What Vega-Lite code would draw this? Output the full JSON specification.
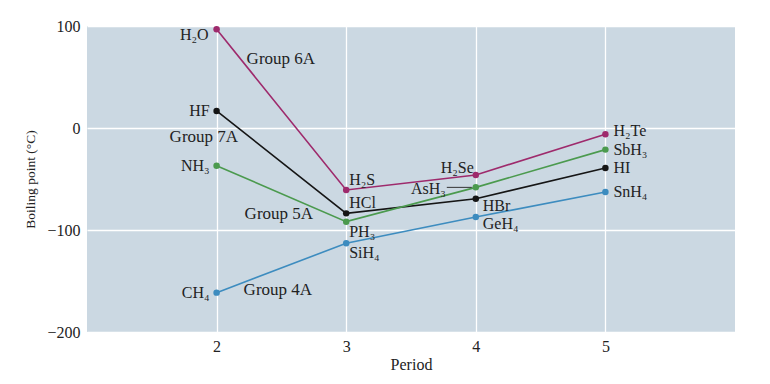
{
  "$schema": "https://vega.github.io/schema/vega-lite/v6.json",
  "width": 648,
  "height": 306,
  "autosize": "none",
  "padding": {"left": 87, "top": 26, "right": 35, "bottom": 52},
  "background": "white",
  "data": {
    "values": [
      {"compound": "H₂O", "period": 2, "bp": 96.8, "group": "Group 6A"},
      {"compound": "H₂S", "period": 3, "bp": -60.8, "group": "Group 6A"},
      {"compound": "H₂Se", "period": 4, "bp": -46, "group": "Group 6A"},
      {"compound": "H₂Te", "period": 5, "bp": -6.2, "group": "Group 6A"},
      {"compound": "HF", "period": 2, "bp": 16.7, "group": "Group 7A"},
      {"compound": "HCl", "period": 3, "bp": -83.7, "group": "Group 7A"},
      {"compound": "HBr", "period": 4, "bp": -69.3, "group": "Group 7A"},
      {"compound": "HI", "period": 5, "bp": -39.2, "group": "Group 7A"},
      {"compound": "NH₃", "period": 2, "bp": -37, "group": "Group 5A"},
      {"compound": "PH₃", "period": 3, "bp": -91.8, "group": "Group 5A"},
      {"compound": "AsH₃", "period": 4, "bp": -58.2, "group": "Group 5A"},
      {"compound": "SbH₃", "period": 5, "bp": -21.2, "group": "Group 5A"},
      {"compound": "CH₄", "period": 2, "bp": -161.4, "group": "Group 4A"},
      {"compound": "SiH₄", "period": 3, "bp": -113, "group": "Group 4A"},
      {"compound": "GeH₄", "period": 4, "bp": -87.3, "group": "Group 4A"},
      {"compound": "SnH₄", "period": 5, "bp": -62.7, "group": "Group 4A"}
    ]
  },
  "encoding": {
    "x": {
      "field": "period", "type": "quantitative",
      "scale": {"domain": [1, 6], "nice": false, "zero": false},
      "axis": {"values": [2, 3, 4, 5], "title": "Period", "labelPadding": 6, "titlePadding": 2, "grid": true}
    },
    "y": {
      "field": "bp", "type": "quantitative",
      "scale": {"domain": [-200, 100], "nice": false},
      "axis": {"values": [-200, -100, 0, 100], "title": "Boiling point (°C)", "labelPadding": 7, "titlePadding": 9, "titleFontSize": 13.5, "grid": true}
    }
  },
  "layer": [
    {
      "mark": {"type": "line", "strokeWidth": 1.6},
      "encoding": {
        "color": {
          "field": "group", "type": "nominal",
          "scale": {"domain": ["Group 6A", "Group 7A", "Group 5A", "Group 4A"], "range": ["#9e2a6c", "#151515", "#4b9a4e", "#3d8cbf"]},
          "legend": null
        },
        "order": {"field": "period"}
      }
    },
    {
      "mark": {"type": "point", "filled": true, "size": 42, "opacity": 1},
      "encoding": {
        "color": {"field": "group", "type": "nominal", "legend": null}
      }
    },
    {
      "transform": [{"filter": {"field": "compound", "oneOf": ["HF", "NH₃", "CH₄"]}}],
      "mark": {"type": "text", "align": "right", "baseline": "middle", "dx": -7, "dy": 0, "font": "Liberation Serif", "fontSize": 16, "color": "#222"},
      "encoding": {"text": {"field": "compound"}}
    },
    {
      "transform": [{"filter": {"field": "compound", "equal": "H₂O"}}],
      "mark": {"type": "text", "align": "right", "baseline": "middle", "dx": -8, "dy": 6, "font": "Liberation Serif", "fontSize": 16, "color": "#222"},
      "encoding": {"text": {"field": "compound"}}
    },
    {
      "transform": [{"filter": {"field": "compound", "oneOf": ["H₂S", "HCl"]}}],
      "mark": {"type": "text", "align": "left", "baseline": "middle", "dx": 3, "dy": -10, "font": "Liberation Serif", "fontSize": 16, "color": "#222"},
      "encoding": {"text": {"field": "compound"}}
    },
    {
      "transform": [{"filter": {"field": "compound", "oneOf": ["PH₃", "SiH₄"]}}],
      "mark": {"type": "text", "align": "left", "baseline": "middle", "dx": 3, "dy": 10, "font": "Liberation Serif", "fontSize": 16, "color": "#222"},
      "encoding": {"text": {"field": "compound"}}
    },
    {
      "transform": [{"filter": {"field": "compound", "equal": "H₂Se"}}],
      "mark": {"type": "text", "align": "right", "baseline": "middle", "dx": -2, "dy": -7, "font": "Liberation Serif", "fontSize": 16, "color": "#222"},
      "encoding": {"text": {"field": "compound"}}
    },
    {
      "transform": [{"filter": {"field": "compound", "equal": "AsH₃"}}],
      "mark": {"type": "text", "align": "right", "baseline": "middle", "dx": -30, "dy": 2, "font": "Liberation Serif", "fontSize": 16, "color": "#222"},
      "encoding": {"text": {"field": "compound"}}
    },
    {
      "transform": [{"filter": {"field": "compound", "equal": "AsH₃"}}],
      "mark": {"type": "rule", "color": "#333", "strokeWidth": 1, "xOffset": -29, "x2Offset": -4},
      "encoding": {"x2": {"field": "period"}}
    },
    {
      "transform": [{"filter": {"field": "compound", "oneOf": ["HBr", "GeH₄"]}}],
      "mark": {"type": "text", "align": "left", "baseline": "middle", "dx": 7, "dy": 7, "font": "Liberation Serif", "fontSize": 16, "color": "#222"},
      "encoding": {"text": {"field": "compound"}}
    },
    {
      "transform": [{"filter": {"field": "compound", "oneOf": ["SbH₃", "HI", "SnH₄"]}}],
      "mark": {"type": "text", "align": "left", "baseline": "middle", "dx": 8, "dy": 0, "font": "Liberation Serif", "fontSize": 16, "color": "#222"},
      "encoding": {"text": {"field": "compound"}}
    },
    {
      "transform": [{"filter": {"field": "compound", "equal": "H₂Te"}}],
      "mark": {"type": "text", "align": "left", "baseline": "middle", "dx": 8, "dy": -3, "font": "Liberation Serif", "fontSize": 16, "color": "#222"},
      "encoding": {"text": {"field": "compound"}}
    },
    {
      "transform": [{"filter": {"field": "compound", "equal": "H₂O"}}],
      "mark": {"type": "text", "align": "left", "baseline": "middle", "dx": 30, "dy": 30, "font": "Liberation Serif", "fontSize": 17, "color": "#222"},
      "encoding": {"text": {"field": "group"}}
    },
    {
      "transform": [{"filter": {"field": "compound", "equal": "HF"}}],
      "mark": {"type": "text", "align": "left", "baseline": "middle", "dx": -47, "dy": 26, "font": "Liberation Serif", "fontSize": 17, "color": "#222"},
      "encoding": {"text": {"field": "group"}}
    },
    {
      "transform": [{"filter": {"field": "compound", "equal": "NH₃"}}],
      "mark": {"type": "text", "align": "left", "baseline": "middle", "dx": 28, "dy": 48, "font": "Liberation Serif", "fontSize": 17, "color": "#222"},
      "encoding": {"text": {"field": "group"}}
    },
    {
      "transform": [{"filter": {"field": "compound", "equal": "CH₄"}}],
      "mark": {"type": "text", "align": "left", "baseline": "middle", "dx": 27, "dy": -3, "font": "Liberation Serif", "fontSize": 17, "color": "#222"},
      "encoding": {"text": {"field": "group"}}
    }
  ],
  "config": {
    "view": {"fill": "#cbd8e2", "stroke": null},
    "axis": {
      "domain": false,
      "ticks": false,
      "grid": true,
      "gridColor": "#ffffff",
      "gridWidth": 1.3,
      "gridOpacity": 1,
      "labelFont": "Liberation Serif",
      "labelFontSize": 16,
      "labelColor": "#222",
      "titleFont": "Liberation Serif",
      "titleFontSize": 16,
      "titleFontWeight": "normal",
      "titleColor": "#222"
    }
  }
}
